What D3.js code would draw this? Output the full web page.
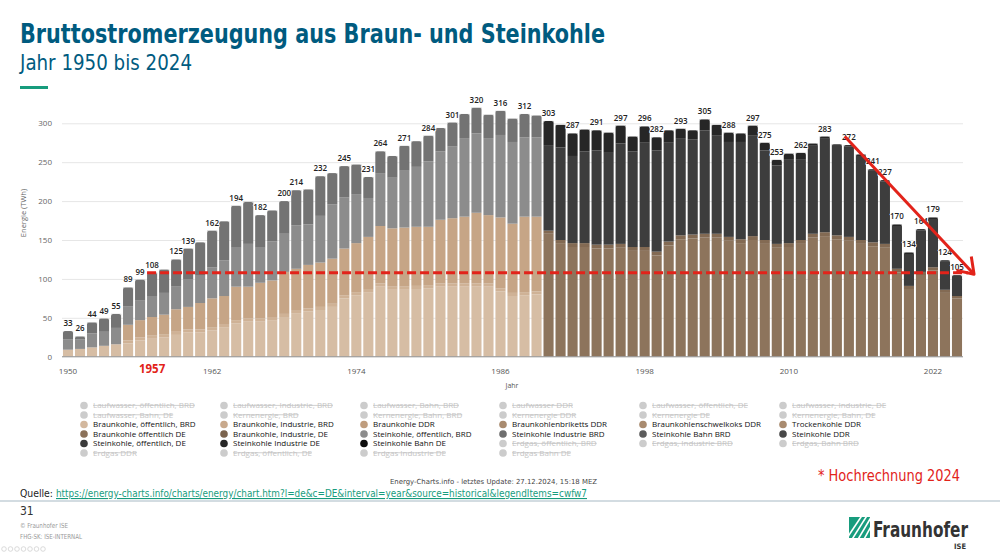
<!DOCTYPE html>
<html>
<head>
<meta charset="utf-8">
<script src="https://cdn.jsdelivr.net/npm/d3@7"></script>
<style>
  body { margin: 0; background: #fff; }
  svg { display: block; }
  text { font-family: "Open Sans", sans-serif; }
</style>
</head>
<body>
<svg id="chart" width="1000" height="553"></svg>
<script>
// years shown on the x axis
const years = d3.range(1950, 2025)
const yearsBRD = d3.range(1950, 1990)
const yearsDE = d3.range(1990, 2025)

// BRD era series (1950-1989), TWh
const bkOeffBRD = [9,10,12,14,16,17,21,23,25,28,31,31,34,38,43,45,45,47,51,56,58,60,64,75,79,83,90,86,86,87,88,90,90,90,90,90,84,78,79,80]
const bkIndBRD = [0,0,0,0,0,4,4,4,4,4,4,4,4,4,4,4,4,4,4,4,4,4,4,4,4,4,4,4,4,4,4,4,4,4,4,4,4,4,4,4]
const bkDDR = [0,0,0,0,0,20,22,24,25,29,29,34,37,36,43,41,46,47,54,53,56,57,58,60,63,67,74,75,76,76,75,82,84,86,91,88,91,89,97,96]
const skOeffBRD = [13,12,18,18,21,24,25,27,28,29,35,35,40,46,50,55,45,50,49,56,52,60,70,66,63,50,68,65,73,77,84,88,92,101,102,99,106,105,102,102]
const skIndBRD = [11,4,14,17,18,24,27,30,30,35,40,43,47,50,54,54,42,40,42,45,45,51,40,40,38,27,28,28,32,33,33,30,31,31,33,30,31,30,30,28]

// unified Germany series (1990-2024), TWh
const bkOeffDE = [158,146,141,141,139,139,140,136,136,130,143,151,152,153,153,149,146,150,145,140,141,145,153,155,151,149,145,142,140,108,87,105,111,82,75]
const bkIndDE = [4,4,5,5,5,5,5,5,5,5,5,5,5,5,5,5,5,5,5,5,5,5,5,5,5,5,5,5,5,5,4,4,4,4,3]
const skOeffDE = [110,119,112,118,121,118,129,123,134,130,127,125,122,133,126,122,125,129,115,101,108,104,114,121,115,116,108,92,80,55,41,53,62,36,26]
const skIndDE = [31,29,29,28,26,26,23,19,21,17,16,12,12,14,14,12,11,13,10,7,7,8,2,2,2,2,2,2,2,2,2,2,2,2,1]

// which bars carry a total label
const labelYears = [1950,1951,1952,1953,1954,1955,1956,1957,1959,1960,1962,1964,1966,1968,1969,1971,1973,1975,1976,1978,1980,1982,1984,1986,1988,1990,1992,1994,1996,1998,1999,2001,2003,2005,2007,2008,2009,2011,2013,2015,2017,2018,2019,2020,2021,2022,2023,2024]
const xTicks = [1950,1962,1974,1986,1998,2010,2022]
const yTicks = [0,50,100,150,200,250,300]
const markYear = 1957

// legend, row by row
const legendNames = [
  'Laufwasser, öffentlich, BRD','Laufwasser, Industrie, BRD','Laufwasser, Bahn, BRD','Laufwasser DDR','Laufwasser, öffentlich, DE','Laufwasser, Industrie, DE',
  'Laufwasser, Bahn, DE','Kernenergie, BRD','Kernenergie, Bahn, BRD','Kernenergie DDR','Kernenergie DE','Kernenergie, Bahn, DE',
  'Braunkohle, öffentlich, BRD','Braunkohle, Industrie, BRD','Braunkohle DDR','Braunkohlenbriketts DDR','Braunkohlenschwelkoks DDR','Trockenkohle DDR',
  'Braunkohle öffentlich DE','Braunkohle, Industrie, DE','Steinkohle, öffentlich, BRD','Steinkohle Industrie BRD','Steinkohle Bahn BRD','Steinkohle DDR',
  'Steinkohle, öffentlich, DE','Steinkohle Industrie DE','Steinkohle Bahn DE','Erdgas, öffentlich, BRD','Erdgas, Industrie BRD','Erdgas, Bahn BRD',
  'Erdgas DDR','Erdgas, öffentlich, DE','Erdgas Industrie DE','Erdgas Bahn DE'
]
// shown series only; the rest are greyed out
const legendColors = {
  'Braunkohle, öffentlich, BRD': '#d3b89e',
  'Braunkohle, Industrie, BRD': '#c8a98c',
  'Braunkohle DDR': '#bf9d7e',
  'Braunkohlenbriketts DDR': '#a98b6f',
  'Braunkohlenschwelkoks DDR': '#a98b6f',
  'Trockenkohle DDR': '#a98b6f',
  'Braunkohle öffentlich DE': '#8b7159',
  'Braunkohle, Industrie, DE': '#7b634d',
  'Steinkohle, öffentlich, BRD': '#8c8c8c',
  'Steinkohle Industrie BRD': '#6e6e6e',
  'Steinkohle Bahn BRD': '#5c5c5c',
  'Steinkohle DDR': '#484848',
  'Steinkohle, öffentlich, DE': '#3b3b3b',
  'Steinkohle Industrie DE': '#272727',
  'Steinkohle Bahn DE': '#0d0d0d'
}

// stack order bottom -> top
const stackDefs = [
  { key: 'Braunkohle, öffentlich, BRD', years: yearsBRD, values: bkOeffBRD, fill: '#d6bda4' },
  { key: 'Braunkohle, Industrie, BRD', years: yearsBRD, values: bkIndBRD, fill: '#cfb296' },
  { key: 'Braunkohle DDR', years: yearsBRD, values: bkDDR, fill: '#c6a586' },
  { key: 'Braunkohle öffentlich DE', years: yearsDE, values: bkOeffDE, fill: '#8d745c' },
  { key: 'Braunkohle, Industrie, DE', years: yearsDE, values: bkIndDE, fill: '#836a53' },
  { key: 'Steinkohle, öffentlich, BRD', years: yearsBRD, values: skOeffBRD, fill: '#8c8c8c' },
  { key: 'Steinkohle Industrie BRD', years: yearsBRD, values: skIndBRD, fill: '#737373' },
  { key: 'Steinkohle, öffentlich, DE', years: yearsDE, values: skOeffDE, fill: '#3d3d3d' },
  { key: 'Steinkohle Industrie DE', years: yearsDE, values: skIndDE, fill: '#262626' }
]

const rows = years.map(yr => {
  const r = { year: yr }
  stackDefs.forEach(s => {
    const i = s.years.indexOf(yr)
    r[s.key] = i >= 0 ? s.values[i] : 0
  })
  return r
})
const totals = rows.map(r => d3.sum(stackDefs, s => r[s.key]))

const svg = d3.select('#chart')
const red = '#e2231a'
const titleBlue = '#005b7f'
const narrow = '"Liberation Sans Narrow", "DejaVu Sans Condensed", sans-serif'

// header (condensed via textLength, the slide font is narrow)
svg.append('text').attr('x', 20).attr('y', 43)
  .style('font-family', narrow)
  .style('font-weight', 'bold').style('font-size', '27px').attr('fill', titleBlue)
  .attr('textLength', 585).attr('lengthAdjust', 'spacingAndGlyphs')
  .text('Bruttostromerzeugung aus Braun- und Steinkohle')
svg.append('text').attr('x', 20).attr('y', 70)
  .style('font-family', narrow)
  .style('font-size', '22px').attr('fill', titleBlue)
  .attr('textLength', 172).attr('lengthAdjust', 'spacingAndGlyphs')
  .text('Jahr 1950 bis 2024')
svg.append('rect').attr('x', 20).attr('y', 86).attr('width', 28).attr('height', 3).attr('fill', '#179c7d')

// scales
const x = d3.scaleBand().domain(years).range([62, 963]).paddingInner(0.16).paddingOuter(0.08)
const y = d3.scaleLinear().domain([0, 300]).range([356.7, 123.3])

// grid + y axis
const yAxis = d3.axisLeft(y).tickValues(yTicks).tickSize(-(963 - 62)).tickPadding(10)
const gy = svg.append('g').attr('transform', 'translate(62,0)').call(yAxis)
gy.select('.domain').remove()
gy.selectAll('.tick line').attr('stroke', '#e6e6e6')
gy.selectAll('.tick text').attr('fill', '#666').style('font-size', '8px').attr('font-family', '"Open Sans", sans-serif')

svg.append('text')
  .attr('transform', 'translate(26,213) rotate(-90)')
  .attr('text-anchor', 'middle').attr('fill', '#666').style('font-size', '7.5px')
  .text('Energie (TWh)')

// stacked bars
const series = d3.stack().keys(stackDefs.map(s => s.key))(rows)
const fillOf = {}
stackDefs.forEach(s => { fillOf[s.key] = s.fill })

series.forEach(layer => {
  svg.append('g').selectAll('rect')
    .data(layer.filter(d => d[1] - d[0] > 0))
    .enter().append('rect')
      .attr('x', d => x(d.data.year))
      .attr('y', d => y(d[1]))
      .attr('width', x.bandwidth())
      .attr('height', d => y(d[0]) - y(d[1]))
      .attr('fill', fillOf[layer.key])
})

// corner cut-outs so the bar tops read as rounded
svg.append('g').selectAll('path')
  .data(rows)
  .enter().append('path')
    .attr('d', (d, i) => {
      const x0 = x(d.year), w = x.bandwidth(), yt = y(totals[i]), r = 2
      return `M${x0},${yt}L${x0 + r},${yt}Q${x0},${yt} ${x0},${yt + r}Z M${x0 + w},${yt}L${x0 + w - r},${yt}Q${x0 + w},${yt} ${x0 + w},${yt + r}Z`
    })
    .attr('fill', '#fff')

// baseline
svg.append('line').attr('x1', 62).attr('x2', 963).attr('y1', y(0)).attr('y2', y(0))
  .attr('stroke', '#999').attr('stroke-width', 1)

// x axis labels
const xAxis = d3.axisBottom(x).tickValues(xTicks).tickSize(0).tickPadding(12)
const gx = svg.append('g').attr('transform', `translate(0,${y(0)})`).call(xAxis)
gx.select('.domain').remove()
gx.selectAll('.tick text').attr('fill', '#555').style('font-size', '8px').attr('font-family', '"Open Sans", sans-serif')

svg.append('text').attr('x', x(markYear) + x.bandwidth() / 2).attr('y', 373)
  .attr('text-anchor', 'middle').attr('fill', red)
  .style('font-weight', 'bold').style('font-size', '11.5px')
  .text(markYear)

svg.append('text').attr('x', 512).attr('y', 388)
  .attr('text-anchor', 'middle').attr('fill', '#555').style('font-size', '7px')
  .text('Jahr')

// total labels
svg.append('g').selectAll('text')
  .data(rows.filter(r => labelYears.includes(r.year)))
  .enter().append('text')
    .attr('x', d => x(d.year) + x.bandwidth() / 2)
    .attr('y', d => y(totals[years.indexOf(d.year)]) - 5)
    .attr('text-anchor', 'middle')
    .attr('fill', '#222')
    .style('font-size', '8px').style('font-weight', '600')
    .style('paint-order', 'stroke').attr('stroke', '#fff').attr('stroke-width', 1.5)
    .text(d => totals[years.indexOf(d.year)])

// red reference line at the 1957 level
const refY = y(totals[years.indexOf(markYear)])
svg.append('line')
  .attr('x1', x(markYear)).attr('x2', 968)
  .attr('y1', refY).attr('y2', refY)
  .attr('stroke', red).attr('stroke-width', 3).attr('stroke-dasharray', '9,4')

// red trend arrow
const ax1 = x(2015) + x.bandwidth() / 2 - 4, ay1 = y(283)
const ax2 = x(2024) + x.bandwidth() + 12, ay2 = y(106)
const ang = Math.atan2(ay2 - ay1, ax2 - ax1)
svg.append('line').attr('x1', ax1).attr('y1', ay1).attr('x2', ax2).attr('y2', ay2)
  .attr('stroke', red).attr('stroke-width', 3)
const head = [ang + Math.PI - 0.6, ang + Math.PI + 0.6].map(a => [ax2 + 18 * Math.cos(a), ay2 + 18 * Math.sin(a)])
svg.append('path')
  .attr('d', `M${head[0][0]},${head[0][1]}L${ax2},${ay2}L${head[1][0]},${head[1][1]}`)
  .attr('fill', 'none').attr('stroke', red).attr('stroke-width', 3).attr('stroke-linejoin', 'round')

// legend
const colX = [84, 224, 364, 503, 643, 783]
const legend = svg.append('g').selectAll('g')
  .data(legendNames)
  .enter().append('g')
    .attr('transform', (d, i) => `translate(${colX[i % 6]},${405.5 + Math.floor(i / 6) * 9.5})`)
legend.append('circle').attr('r', 3.8)
  .attr('fill', d => legendColors[d] || '#cccccc')
legend.append('text').attr('x', 9).attr('dy', '0.35em')
  .style('font-size', '8px')
  .attr('fill', d => legendColors[d] ? '#111' : '#c4c4c4')
  .style('text-decoration', d => legendColors[d] ? 'none' : 'line-through')
  .text(d => d)

// footer
svg.append('text').attr('x', 818).attr('y', 481)
  .style('font-family', narrow)
  .style('font-size', '16px').attr('fill', red)
  .attr('textLength', 142).attr('lengthAdjust', 'spacingAndGlyphs')
  .text('* Hochrechnung 2024')
svg.append('text').attr('x', 390).attr('y', 484)
  .style('font-family', narrow)
  .style('font-size', '7px').attr('fill', '#444')
  .attr('textLength', 207).attr('lengthAdjust', 'spacingAndGlyphs')
  .text('Energy-Charts.info - letztes Update: 27.12.2024, 15:18 MEZ')
svg.append('text').attr('x', 20).attr('y', 497)
  .style('font-family', narrow).style('font-size', '11px').attr('fill', '#222')
  .attr('textLength', 33).attr('lengthAdjust', 'spacingAndGlyphs')
  .text('Quelle:')
svg.append('text').attr('x', 56).attr('y', 497)
  .style('font-family', narrow).style('font-size', '11px').attr('fill', '#179c7d')
  .style('text-decoration', 'underline')
  .attr('textLength', 531).attr('lengthAdjust', 'spacingAndGlyphs')
  .text('https://energy-charts.info/charts/energy/chart.htm?l=de&c=DE&interval=year&source=historical&legendItems=cwfw7')

svg.append('line').attr('x1', 0).attr('x2', 1000).attr('y1', 501).attr('y2', 501)
  .attr('stroke', '#a7b9c4').attr('stroke-width', 1)
svg.append('text').attr('x', 20).attr('y', 515)
  .style('font-family', narrow).style('font-size', '12px').attr('fill', '#333')
  .text('31')
svg.append('text').attr('x', 20).attr('y', 528)
  .style('font-family', narrow).style('font-size', '7px').attr('fill', '#999')
  .attr('textLength', 48).attr('lengthAdjust', 'spacingAndGlyphs')
  .text('© Fraunhofer ISE')
svg.append('text').attr('x', 20).attr('y', 539)
  .style('font-family', narrow).style('font-size', '7px').attr('fill', '#999')
  .attr('textLength', 62).attr('lengthAdjust', 'spacingAndGlyphs')
  .text('FHG-SK: ISE-INTERNAL')
svg.append('g').selectAll('circle').data([0, 1, 2, 3, 4, 5, 6])
  .enter().append('circle')
    .attr('cx', d => 4 + d * 6.5).attr('cy', 549).attr('r', 2.3)
    .attr('fill', 'none').attr('stroke', '#ccc').attr('stroke-width', 0.7)

// Fraunhofer logo
const logo = svg.append('g').attr('transform', 'translate(849,517)')
logo.append('clipPath').attr('id', 'lc').append('rect').attr('width', 21).attr('height', 21)
const lg = logo.append('g').attr('clip-path', 'url(#lc)')
lg.append('rect').attr('width', 21).attr('height', 21).attr('fill', '#179c7d')
lg.selectAll('line').data([0, 1, 2, 3, 4, 5])
  .enter().append('line')
    .attr('x1', d => -4 + d * 6).attr('y1', 24).attr('x2', d => 14 + d * 5).attr('y2', -3)
    .attr('stroke', '#fff').attr('stroke-width', 1.6)
svg.append('text').attr('x', 873).attr('y', 537)
  .style('font-family', narrow)
  .style('font-weight', 'bold').style('font-size', '22px').attr('fill', '#333')
  .attr('textLength', 95).attr('lengthAdjust', 'spacingAndGlyphs')
  .text('Fraunhofer')
svg.append('text').attr('x', 966).attr('y', 549).attr('text-anchor', 'end')
  .style('font-family', narrow)
  .style('font-weight', 'bold').style('font-size', '7.5px').attr('fill', '#333')
  .text('ISE')
</script>
</body>
</html>
